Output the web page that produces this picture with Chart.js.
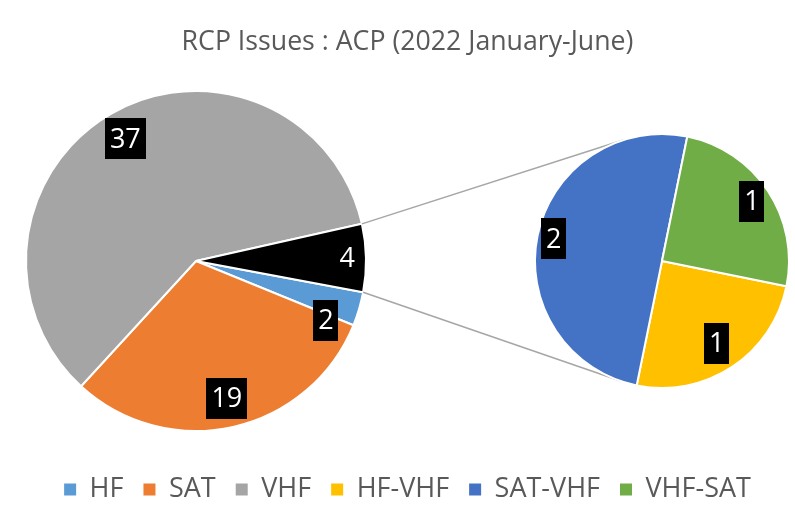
<!DOCTYPE html>
<html>
<head>
<meta charset="utf-8">
<script src="https://cdn.jsdelivr.net/npm/chart.js@4/dist/chart.umd.min.js"></script>
<style>
  body { margin: 0; background: #ffffff; }
  #wrap { position: relative; width: 795px; height: 513px; }
  #wrap canvas { position: absolute; left: 0; top: 0; }
</style>
</head>
<body>
<div id="wrap">
  <canvas id="mainPie" width="795" height="513"></canvas>
  <canvas id="subPie" width="795" height="513"></canvas>
</div>
<script>
// data
const titleText = 'RCP Issues : ACP (2022 January-June)';
const mainLabels = ['HF', 'SAT', 'VHF', 'Other'];
const mainValues = [2, 19, 37, 4];
const subLabels = ['HF-VHF', 'SAT-VHF', 'VHF-SAT'];
const subValues = [1, 2, 1];

// styling
const mainColors = ['#5B9BD5', '#ED7D31', '#A5A5A5', '#000000'];
const subColors = ['#FFC000', '#4472C4', '#70AD47'];
const textGrey = '#595959';
const fontFamily = "'Open Sans', sans-serif";

// where each pie sits on the page (centre and radius) and label placement
const mainBox = { cx: 196, cy: 261, r: 170 };
const subBox = { cx: 662, cy: 261, r: 127 };
const mainLabelRadius = [0.84, 0.83, 0.83, 0.89];
const mainLabelShift = [8, 0, 0, 0]; // degrees, Excel nudged the small HF label
const subLabelRadius = [0.78, 0.87, 0.85];
const subLabelShift = [0, 0, 0];

const borderW = 2;

// put the pie's chart area where the pie should be, instead of the auto layout
function placePie (box) {
    return {
        id: 'placePie',
        afterLayout (chart) {
            const half = box.r + borderW / 2;
            chart.chartArea = {
                left: box.cx - half,
                right: box.cx + half,
                top: box.cy - half,
                bottom: box.cy + half,
                width: half * 2,
                height: half * 2
            };
        }
    };
}

// black boxes with white numbers, like Excel data labels
function sliceLabels (radii, shifts) {
    return {
        id: 'sliceLabels',
        afterDatasetsDraw (chart) {
            const ctx = chart.ctx;
            const meta = chart.getDatasetMeta(0);
            const values = chart.data.datasets[0].data;
            ctx.save();
            ctx.font = '27px ' + fontFamily;
            ctx.textAlign = 'center';
            ctx.textBaseline = 'middle';
            meta.data.forEach(function (arc, i) {
                const p = arc.getProps(['x', 'y', 'startAngle', 'endAngle', 'outerRadius'], true);
                const a = (p.startAngle + p.endAngle) / 2 + shifts[i] * Math.PI / 180;
                const rr = p.outerRadius * radii[i];
                const x = p.x + Math.cos(a) * rr;
                const y = p.y + Math.sin(a) * rr;
                const txt = String(values[i]);
                const w = ctx.measureText(txt).width + 10;
                const h = 41;
                ctx.fillStyle = '#000000';
                ctx.fillRect(Math.round(x - w / 2), Math.round(y - h / 2), Math.round(w), h);
                ctx.fillStyle = '#ffffff';
                ctx.fillText(txt, x, y + 1);
            });
            ctx.restore();
        }
    };
}

const mainChart = new Chart(document.getElementById('mainPie'), {
    type: 'pie',
    data: {
        labels: mainLabels,
        datasets: [{
            data: mainValues,
            backgroundColor: mainColors,
            borderColor: '#ffffff',
            borderWidth: borderW,
            hoverOffset: 0,
            clip: false
        }]
    },
    options: {
        responsive: false,
        animation: false,
        rotation: 100.6,
        events: [],
        layout: { padding: { left: 20, bottom: 0 } }, // title and legend sit a bit right of centre
        plugins: {
            tooltip: { enabled: false },
            title: {
                display: true,
                text: titleText,
                color: textGrey,
                font: { family: fontFamily, size: 26.7, weight: 'normal' },
                padding: { top: 26, bottom: 10 }
            },
            legend: {
                display: true,
                position: 'bottom',
                labels: {
                    color: textGrey,
                    font: { family: fontFamily, size: 27 },
                    boxWidth: 12,
                    boxHeight: 12,
                    padding: 20,
                    // legend lists the first three main slices and the three secondary ones
                    generateLabels () {
                        const names = mainLabels.slice(0, 3).concat(subLabels);
                        const cols = mainColors.slice(0, 3).concat(subColors);
                        return names.map(function (n, i) {
                            return { text: n, fillStyle: cols[i], strokeStyle: cols[i], lineWidth: 0, fontColor: textGrey, index: i };
                        });
                    }
                }
            }
        }
    },
    plugins: [placePie(mainBox), sliceLabels(mainLabelRadius, mainLabelShift)]
});

// grey lines from the ends of the "Other" slice, tangent to the second pie
const connectors = {
    id: 'connectors',
    beforeDatasetsDraw (chart) {
        const other = mainChart.getDatasetMeta(0).data[3].getProps(['x', 'y', 'startAngle', 'endAngle', 'outerRadius'], true);
        const sub = chart.getDatasetMeta(0).data[0].getProps(['x', 'y', 'outerRadius'], true);
        const ends = [other.startAngle, other.endAngle].map(function (a) {
            return { x: other.x + Math.cos(a) * other.outerRadius, y: other.y + Math.sin(a) * other.outerRadius };
        }).sort(function (p, q) { return p.y - q.y; });
        const ctx = chart.ctx;
        ctx.save();
        ctx.strokeStyle = '#A6A6A6';
        ctx.lineWidth = 1.5;
        ends.forEach(function (p, k) {
            const dx = p.x - sub.x;
            const dy = p.y - sub.y;
            const d = Math.sqrt(dx * dx + dy * dy);
            const base = Math.atan2(dy, dx);
            const alpha = Math.acos(sub.outerRadius / d);
            const t = k === 0 ? base + alpha : base - alpha;
            ctx.beginPath();
            ctx.moveTo(p.x, p.y);
            ctx.lineTo(sub.x + Math.cos(t) * sub.outerRadius, sub.y + Math.sin(t) * sub.outerRadius);
            ctx.stroke();
        });
        ctx.restore();
    }
};

const subChart = new Chart(document.getElementById('subPie'), {
    type: 'pie',
    data: {
        labels: subLabels,
        datasets: [{
            data: subValues,
            backgroundColor: subColors,
            borderColor: '#ffffff',
            borderWidth: borderW,
            hoverOffset: 0,
            clip: false
        }]
    },
    options: {
        responsive: false,
        animation: false,
        rotation: 101.5,
        events: [],
        plugins: {
            tooltip: { enabled: false },
            title: { display: false },
            legend: { display: false }
        }
    },
    plugins: [placePie(subBox), connectors, sliceLabels(subLabelRadius, subLabelShift)]
});
</script>
</body>
</html>
